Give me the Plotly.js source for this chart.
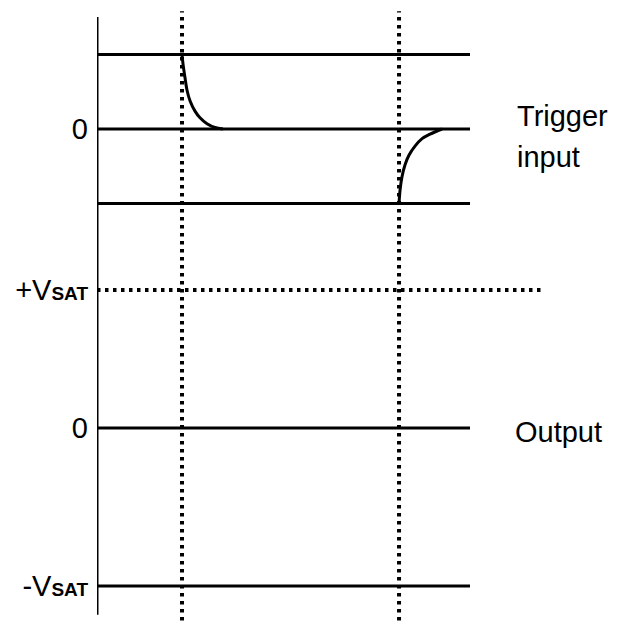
<!DOCTYPE html>
<html>
<head>
<meta charset="utf-8">
<script src="https://cdn.plot.ly/plotly-3.0.1.min.js"></script>
<style>html,body{margin:0;padding:0;background:#fff;}#chart{width:622px;height:628px;}</style>
</head>
<body>
<div id="chart"></div>
<script>
// ---- data (time in arbitrary units, axis at t = 0) ----
const triggerTimes = [1.0, 3.553];            // dotted vertical markers
const triggerLevels = [1, 0, -1];             // trigger input reference lines
const triggerTickVals = [0];
const triggerTickText = ['0'];
const outputSolidLevels = [0, -1.145];        // output 0 and -Vsat lines
const outputDottedLevel = [1];                // +Vsat dotted line
const outputTickVals = [1, 0, -1.145];
const outputTickText = ['+V<span style="font-size:19px;font-weight:bold">SAT</span>', '0', '-V<span style="font-size:19px;font-weight:bold">SAT</span>'];
const lineEnd = 4.388;
const dottedEnd = 5.27;

// positive spike after first trigger
const pulse1T = [1.0, 1.012, 1.035, 1.059, 1.094, 1.153, 1.212, 1.294, 1.388, 1.482];
const pulse1V = [1.0, 0.87, 0.69, 0.52, 0.38, 0.24, 0.15, 0.07, 0.02, 0.0];
// negative spike after second trigger
const pulse2T = [3.553, 3.565, 3.588, 3.624, 3.671, 3.741, 3.824, 3.918, 4.059];
const pulse2V = [-1.0, -0.82, -0.64, -0.48, -0.35, -0.23, -0.13, -0.07, 0.0];

const black = '#000';
const traces = [];
triggerLevels.forEach(lv => traces.push({x:[0, lineEnd], y:[lv, lv], yaxis:'y', mode:'lines', line:{color:black, width:3}, hoverinfo:'skip'}));
outputSolidLevels.forEach(lv => traces.push({x:[0, lineEnd], y:[lv, lv], yaxis:'y2', mode:'lines', line:{color:black, width:3}, hoverinfo:'skip'}));
outputDottedLevel.forEach(lv => traces.push({x:[0, dottedEnd], y:[lv, lv], yaxis:'y2', mode:'lines', line:{color:black, width:4, dash:'3.5px,4.5px'}, hoverinfo:'skip'}));
traces.push({x:pulse1T, y:pulse1V, yaxis:'y', mode:'lines', line:{color:black, width:3, shape:'spline'}, hoverinfo:'skip'});
traces.push({x:pulse2T, y:pulse2V, yaxis:'y', mode:'lines', line:{color:black, width:3, shape:'spline'}, hoverinfo:'skip'});

const shapes = triggerTimes.map(t => ({type:'line', xref:'x', yref:'paper', x0:t, x1:t, y0:0.012, y1:0.982, line:{color:black, width:4, dash:'3.5px,4.5px'}}));
shapes.push({type:'line', xref:'x', yref:'paper', x0:0, x1:0, y0:0.021, y1:0.973, line:{color:black, width:3}});

const font = {family:'Liberation Sans, Arial, sans-serif', size:29, color:black};
const layout = {
  width:622, height:628,
  margin:{l:97, r:0, t:0, b:0},
  showlegend:false,
  paper_bgcolor:'#fff', plot_bgcolor:'#fff',
  xaxis:{range:[0, 6.176], visible:false, fixedrange:true},
  yaxis:{range:[-6.698, 1.7315], showgrid:false, zeroline:false, showline:false, ticks:'',
         tickvals:triggerTickVals, ticktext:triggerTickText, tickfont:font, ticklabelstandoff:8},
  yaxis2:{range:[-1.449, 3.101], overlaying:'y', side:'left', showgrid:false, zeroline:false, showline:false, ticks:'',
          tickvals:outputTickVals, ticktext:outputTickText, tickfont:font, ticklabelstandoff:8},
  shapes:shapes,
  annotations:[
    {text:'Trigger', xref:'x', yref:'y', x:4.92, y:0.175, xanchor:'left', yanchor:'middle', showarrow:false, font:font},
    {text:'input', xref:'x', yref:'y', x:4.92, y:-0.376, xanchor:'left', yanchor:'middle', showarrow:false, font:font},
    {text:'Output', xref:'x', yref:'y2', x:4.894, y:-0.03, xanchor:'left', yanchor:'middle', showarrow:false, font:font}
  ]
};
Plotly.newPlot('chart', traces, layout, {staticPlot:true, displayModeBar:false});
</script>
</body>
</html>
